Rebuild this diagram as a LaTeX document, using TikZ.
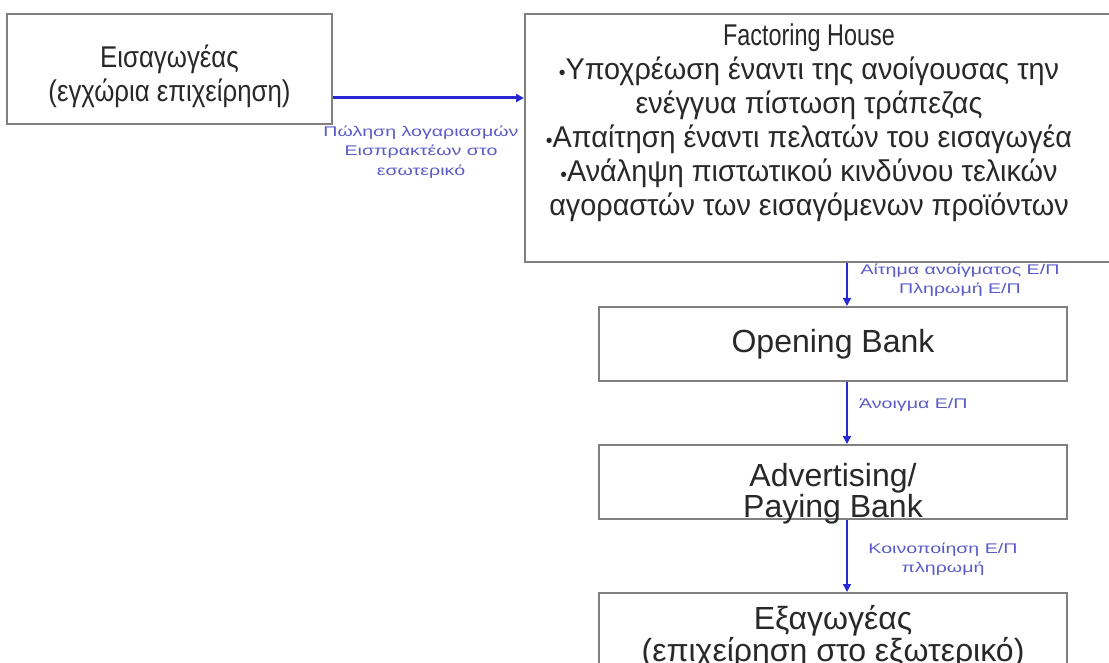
\documentclass[tikz,border=0pt]{standalone}
\usepackage{fontspec}
\setmainfont{Liberation Sans}
\newfontfamily\narrowfont{Liberation Sans}[FakeStretch=0.78]
\newfontfamily\greekfont{Liberation Sans}[FakeStretch=0.96]
\newfontfamily\midfont{Liberation Sans}[FakeStretch=0.86]
\newfontfamily\widefont{Liberation Sans}[FakeStretch=1.4]
\newcommand{\bul}{{\fontsize{20}{34}\selectfont•}}
\usetikzlibrary{arrows.meta,positioning}
\definecolor{boxgray}{RGB}{128,128,128}
\definecolor{inkgray}{RGB}{40,40,40}
\definecolor{flowblue}{RGB}{40,40,210}
\definecolor{labelblue}{RGB}{90,90,200}
\begin{document}
\begin{tikzpicture}[x=1pt, y=-1pt]
% Styles
\tikzstyle{box} = [rectangle, draw=boxgray, line width=2pt, fill=white, text=inkgray, align=center, inner sep=0pt]
\tikzstyle{bank} = [box, minimum width=468pt, font=\fontsize{32}{30}\selectfont]
\tikzstyle{boxtext} = [text=inkgray, align=center, inner sep=0pt]
\tikzstyle{lbl} = [text=labelblue, align=center, inner sep=0pt, font=\widefont\fontsize{14}{19.5}\selectfont]
\tikzstyle{arrow} = [draw=flowblue, line width=1.5pt, -{Triangle[length=8pt,width=8pt]}]

\useasboundingbox (0,0) rectangle (1109,663);
\clip (0,0) rectangle (1109,663);

% Nodes
\node (imp) [box, minimum width=325pt, minimum height=110pt, font=\midfont\fontsize{30}{34}\selectfont] at (169.5,69) {\rule{0pt}{38pt}Εισαγωγέας\\(εγχώρια επιχείρηση)};
\node (fact) [box, minimum width=600pt, minimum height=248pt] at (825,138) {};
\node (facttxt) [boxtext, font=\greekfont\fontsize{30}{34}\selectfont] at (809,123) {{\narrowfont Factoring House}\\\bul Υποχρέωση έναντι της ανοίγουσας την\\ενέγγυα πίστωση τράπεζας\\\bul Απαίτηση έναντι πελατών του εισαγωγέα\\\bul Ανάληψη πιστωτικού κινδύνου τελικών\\αγοραστών των εισαγόμενων προϊόντων};
\node (open) [bank, minimum height=74pt] at (833,344) {Opening Bank};
\node (adv) [bank, minimum height=74pt] at (833,482) {};
\node (advtxt) [boxtext, font=\fontsize{32}{29}\selectfont] at (833,494) {Advertising/\\Paying Bank};
\node (exp) [bank, minimum height=96pt] at (833,641) {};
\node (exptxt) [boxtext, font=\fontsize{32}{32}\selectfont] at (833,637) {Εξαγωγέας\\(επιχείρηση στο εξωτερικό)};

% Labels
\node (lsale) [lbl] at (421,152) {Πώληση λογαριασμών\\Εισπρακτέων στο\\εσωτερικό};
\node (lreq) [lbl] at (960,280) {Αίτημα ανοίγματος Ε/Π\\Πληρωμή Ε/Π};
\node (lopen) [lbl, anchor=west] at (859,405) {Άνοιγμα Ε/Π};
\node (lnote) [lbl] at (943,559) {Κοινοποίηση Ε/Π\\πληρωμή};

% Arrows
\draw [arrow, line width=3pt] ([yshift=-29pt]imp.east) -- ([yshift=-29pt]imp.east -| fact.west);
\draw [arrow] ([xshift=14pt]open.north |- fact.south) -- ([xshift=14pt]open.north);
\draw [arrow] ([xshift=14pt]open.south) -- ([xshift=14pt]adv.north);
\draw [arrow] ([xshift=14pt]adv.south) -- ([xshift=14pt]exp.north);

\end{tikzpicture}
\end{document}
